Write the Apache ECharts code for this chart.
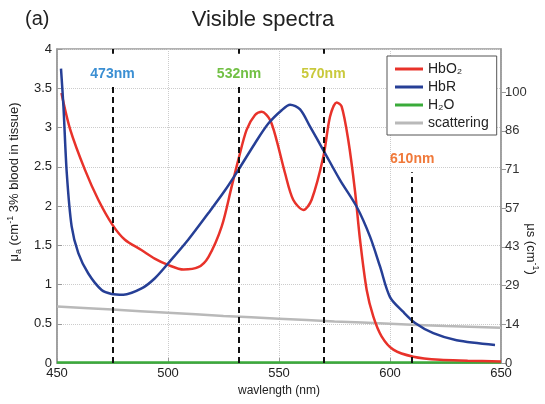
<!DOCTYPE html>
<html>
<head>
<meta charset="utf-8">
<script src="https://cdn.jsdelivr.net/npm/echarts@6/dist/echarts.min.js"></script>
<style>
  html, body { margin: 0; padding: 0; background: #fff; }
  #main { width: 545px; height: 404px; }
</style>
</head>
<body>
<div id="main"></div>
<script>
  // HbO2 absorption (wavelength nm / mu_a)
  const hbo2Wl = [452, 456, 462.6, 468.6, 475, 480.6, 488, 494, 500, 507, 513.6, 518.2, 524.2, 528.7, 531.7,
    535.4, 539.2, 542.2, 545.9, 548.9, 552.7, 556.4, 561, 564.7, 570, 573, 576, 578.2, 581.2, 584.2, 586.5,
    589.5, 592.5, 596.2, 601.5, 610.5, 622.5, 635, 650];
  const hbo2Val = [3.44, 2.97, 2.46, 2.08, 1.76, 1.57, 1.44, 1.33, 1.25, 1.19, 1.22, 1.35, 1.74, 2.25, 2.59,
    2.97, 3.16, 3.20, 3.10, 2.84, 2.42, 2.08, 1.95, 2.08, 2.63, 3.14, 3.32, 3.27, 2.84, 2.20, 1.57,
    0.93, 0.59, 0.34, 0.17, 0.08, 0.04, 0.03, 0.02];

  // HbR absorption
  const hbrWl = [451.8, 452.9, 454.4, 456.6, 459.6, 464.1, 470.1, 474.6, 479.9, 488.1, 494.1, 500.1, 509.1,
    518.2, 525.7, 531.7, 539.2, 545.2, 551.2, 555, 559.5, 564, 570, 577.5, 585, 591, 595.5, 600, 606,
    611.3, 619.5, 630, 647.3];
  const hbrVal = [3.75, 3.27, 2.42, 1.74, 1.40, 1.14, 0.93, 0.88, 0.87, 0.95, 1.08, 1.27, 1.57,
    1.91, 2.20, 2.46, 2.80, 3.05, 3.22, 3.29, 3.23, 3.01, 2.71, 2.33, 1.99, 1.61, 1.23, 0.84, 0.65,
    0.51, 0.38, 0.29, 0.23];

  // water
  const h2oWl = [450, 500, 550, 600, 650];
  const h2oVal = [0.005, 0.005, 0.005, 0.005, 0.005];

  // scattering (plotted on left scale)
  const scatWl = [450, 475, 500, 525, 550, 575, 600, 625, 650];
  const scatVal = [0.72, 0.68, 0.64, 0.60, 0.565, 0.53, 0.50, 0.47, 0.45];

  // marked wavelengths
  const markWl = [475, 532, 570, 610];
  const markText = ['473nm', '532nm', '570nm', '610nm'];
  const markTop = [3.52, 3.52, 3.52, 2.43];
  const markColors = ['#3b8fd3', '#72c045', '#c9c93c', '#f0793a'];

  const leftTicks = [0, 0.5, 1, 1.5, 2, 2.5, 3, 3.5, 4];
  // right axis: mu_s, 100 sits at about 3.45 on the left scale
  const rightMax = 115.9;
  const rightTicks = [0, 100 / 7, 200 / 7, 300 / 7, 400 / 7, 500 / 7, 600 / 7, 100];

  const pairs = (xs, ys) => xs.map((x, i) => [x, ys[i]]);
  const font = 'Liberation Sans, Arial, sans-serif';

  const markData = [];
  markWl.forEach((w, i) => {
    markData.push([
      { coord: [w, 0] },
      { coord: [w, markTop[i]], label: { show: true, position: 'end', formatter: markText[i],
        color: markColors[i], fontWeight: 'bold', fontSize: 14, fontFamily: font, distance: 6 } }
    ]);
    if (markTop[i] > 3) {
      markData.push([{ coord: [w, 4] }, { coord: [w, 3.94] }]);
    }
  });

  const myChart = echarts.init(document.getElementById('main'));
  const option = {
    animation: false,
    textStyle: { fontFamily: font },
    title: [
      { text: 'Visible spectra', left: 258, top: 4, textAlign: 'center',
        textStyle: { fontSize: 22, fontWeight: 'normal', color: '#222', fontFamily: font } },
      { text: '(a)', left: 20, top: 4,
        textStyle: { fontSize: 20, fontWeight: 'normal', color: '#222', fontFamily: font } }
    ],
    // right axis title (reads top to bottom)
    graphic: [{
      type: 'text',
      x: 531,
      y: 249,
      rotation: -Math.PI / 2,
      style: {
        text: '{m|μ}{m|s} {m|(cm}{p|-1}{m|)}',
        align: 'center',
        verticalAlign: 'middle',
        fill: '#222',
        font: '13px ' + font,
        rich: {
          m: { fontSize: 13, fill: '#222', fontFamily: font },
          p: { fontSize: 9, fill: '#222', fontFamily: font, padding: [0, 0, 8, 0] }
        }
      }
    }],
    legend: {
      orient: 'vertical',
      left: 387,
      top: 56,
      width: 108,
      padding: [6, 8, 5, 8],
      itemGap: 4,
      itemWidth: 28,
      itemHeight: 3,
      icon: 'rect',
      borderColor: '#555',
      borderWidth: 1,
      backgroundColor: '#fff',
      textStyle: { fontSize: 14, color: '#222', fontFamily: font },
      data: ['HbO₂', 'HbR', 'H₂O', 'scattering']
    },
    grid: {
      left: 57, right: 44, top: 49, bottom: 41,
      outerBoundsMode: 'none',
      containLabel: false,
      show: true, borderColor: '#999', borderWidth: 1.5
    },
    xAxis: {
      type: 'value',
      min: 450, max: 650, interval: 50,
      name: 'wavlength (nm)',
      nameLocation: 'middle',
      nameGap: 21,
      nameTextStyle: { fontSize: 12, color: '#222' },
      axisLine: { lineStyle: { color: '#999', width: 1.5 } },
      axisTick: { inside: true, lineStyle: { color: '#999' } },
      axisLabel: { fontSize: 13, color: '#222', margin: 4 },
      splitLine: { lineStyle: { color: '#ccc', type: 'dotted' } }
    },
    yAxis: [
      {
        type: 'value',
        min: 0, max: 4, interval: 0.5,
        name: '{m|μ}{s|a} (cm{p|-1} 3% blood in tissue)',
        nameLocation: 'middle',
        nameGap: 28,
        nameTextStyle: {
          fontSize: 13, color: '#222', padding: [0, 0, 0, 48],
          rich: {
            m: { fontSize: 13, color: '#222' },
            s: { fontSize: 9, color: '#222', padding: [8, 0, 0, 0] },
            p: { fontSize: 9, color: '#222', padding: [0, 0, 8, 0] }
          }
        },
        axisLine: { show: true, lineStyle: { color: '#999', width: 1.5 } },
        axisTick: { show: true, inside: true, lineStyle: { color: '#999' } },
        axisLabel: { fontSize: 13, color: '#222', margin: 5,
          formatter: v => leftTicks.indexOf(v) >= 0 ? String(v) : '' },
        splitLine: { lineStyle: { color: '#ccc', type: 'dotted' } }
      },
      {
        type: 'value',
        position: 'right',
        min: 0, max: rightMax,
        axisLine: { show: true, lineStyle: { color: '#999', width: 1.5 } },
        axisTick: { show: true, inside: false, customValues: rightTicks, lineStyle: { color: '#999' } },
        axisLabel: { fontSize: 13, color: '#333', margin: 4, customValues: rightTicks,
          formatter: v => String(Math.round(v)) },
        splitLine: { show: false }
      }
    ],
    series: [
      {
        name: 'H₂O', type: 'line', data: pairs(h2oWl, h2oVal), symbol: 'none',
        lineStyle: { color: '#3aab3a', width: 2.5 }, itemStyle: { color: '#3aab3a' },
        z: 1
      },
      {
        name: 'scattering', type: 'line', data: pairs(scatWl, scatVal), symbol: 'none', smooth: 0.3,
        lineStyle: { color: '#b9b9b9', width: 2.5 }, itemStyle: { color: '#b9b9b9' },
        z: 2
      },
      {
        name: 'HbO₂', type: 'line', data: pairs(hbo2Wl, hbo2Val), symbol: 'none', smooth: 0.3,
        lineStyle: { color: '#e8322a', width: 2.5 }, itemStyle: { color: '#e8322a' },
        z: 3
      },
      {
        name: 'HbR', type: 'line', data: pairs(hbrWl, hbrVal), symbol: 'none', smooth: 0.3,
        lineStyle: { color: '#263f96', width: 2.5 }, itemStyle: { color: '#263f96' },
        z: 4,
        markLine: {
          silent: true,
          symbol: 'none',
          lineStyle: { color: '#111', type: [6, 4], width: 2 },
          label: { show: false },
          data: markData
        }
      }
    ]
  };
  myChart.setOption(option);
</script>
</body>
</html>
